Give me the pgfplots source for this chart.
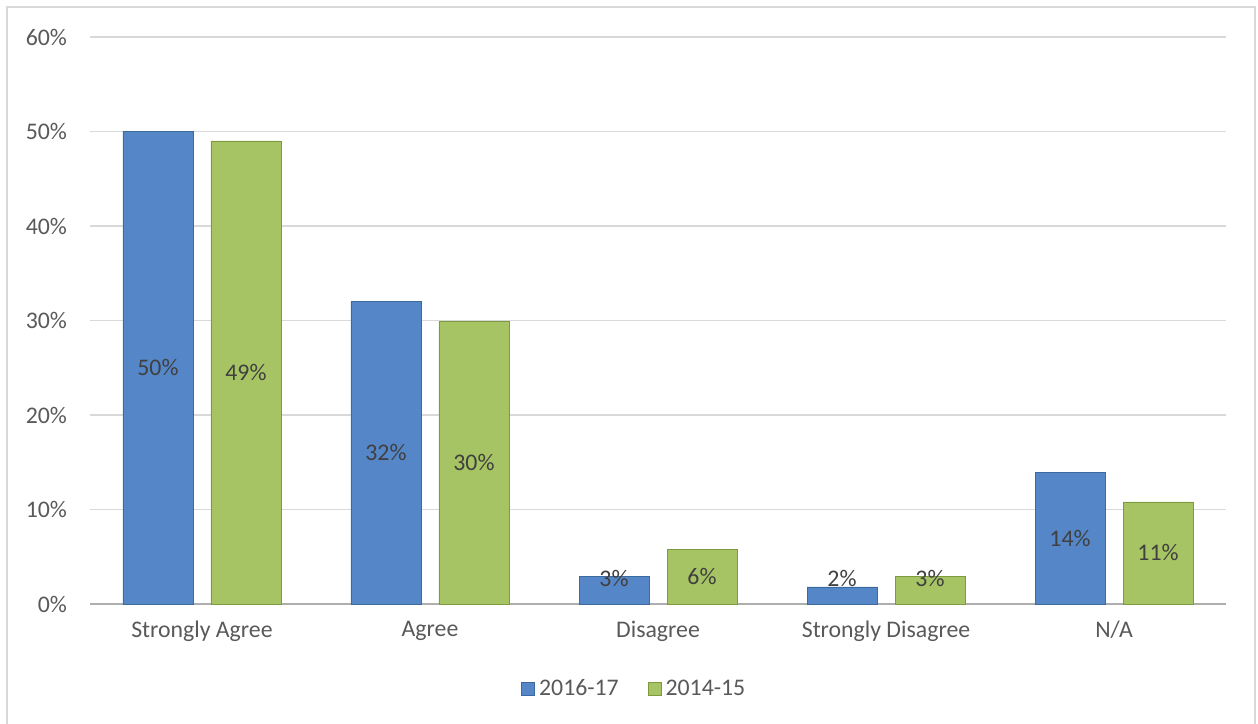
\documentclass[border=0pt]{standalone}
\usepackage{pgfplots}
\pgfplotsset{compat=1.18}
\usepackage{fontspec}
\setmainfont{Carlito}
\definecolor{barblue}{HTML}{5586C7}
\definecolor{edgeblue}{HTML}{3D6A9E}
\definecolor{bargreen}{HTML}{A6C463}
\definecolor{edgegreen}{HTML}{7E9A40}
\definecolor{ticktext}{HTML}{595959}
\definecolor{gridgray}{HTML}{D9D9D9}
\newcommand{\lblfont}{\fontsize{11.9}{14}\selectfont}
\begin{document}
\begin{tikzpicture}
\useasboundingbox (0,0) rectangle (629pt,361.5pt);
\draw[gridgray, line width=0.8pt] (3.5pt,-2pt) -- (3.5pt,358pt) -- (627.5pt,358pt) -- (627.5pt,-2pt);
\begin{axis}[
    at={(45pt,59.5pt)}, anchor=south west,
    scale only axis, width=568pt, height=283.5pt,
    ybar=0pt,
    ymin=0, ymax=60, xmin=-0.491, xmax=4.491,
    xtick={0,1,2,3,4},
    xticklabels={Strongly Agree, Agree, Disagree, Strongly Disagree, N/A},
    ytick={0,10,20,30,40,50,60},
    yticklabel={\pgfmathprintnumber{\tick}\%},
    axis x line*=bottom, axis y line*=left,
    y axis line style={draw=none},
    x axis line style={draw=gridgray!80!black, line width=0.8pt},
    major tick length=0pt,
    ymajorgrids, grid style={gridgray, line width=0.8pt},
    tick label style={font=\lblfont, text=ticktext},
    yticklabel style={xshift=-8pt},
    xticklabel style={yshift=-5pt},
    /pgf/number format/assume math mode=true,
    bar width=35pt,
    nodes near coords={\pgfmathprintnumber[fixed,precision=0]{\pgfplotspointmeta}\%},
    visualization depends on={y \as \rawy},
    every node near coord/.append style={anchor=center, font=\lblfont, text=black!75,
        shift={(axis direction cs:0,{max(\rawy/2,2.65)-\rawy})}},
    legend style={at={(0.48,-0.15)}, anchor=center, draw=none, font=\lblfont,
        text=ticktext, legend columns=2,
        /tikz/every even column/.append style={column sep=12.5pt}},
    legend image code/.code={\fill[#1] (0pt,-3.25pt) rectangle (6.5pt,3.25pt);},
]
\addplot[bar shift=-22pt, fill=barblue, draw=edgeblue] coordinates {
    (0,50.0) (1,32.0) (2,2.9) (3,1.8) (4,13.9)
};
\addplot[bar shift=22pt, fill=bargreen, draw=edgegreen] coordinates {
    (0,49.0) (1,29.9) (2,5.8) (3,2.9) (4,10.8)
};
\legend{2016-17, 2014-15}
\end{axis}
\end{tikzpicture}
\end{document}
